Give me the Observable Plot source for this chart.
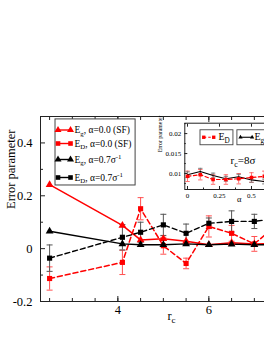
<!DOCTYPE html>
<html><head><meta charset="utf-8">
<script src="https://cdn.jsdelivr.net/npm/d3@7"></script>
<script src="https://cdn.jsdelivr.net/npm/@observablehq/plot@0.6"></script>
<style>
html,body{margin:0;padding:0;background:#fff;overflow:hidden;width:264px;height:341px;}
#wrap{position:relative;width:264px;height:341px;overflow:hidden;}
#wrap svg{max-width:none !important;display:block;}
#main{position:absolute;left:0;top:0;}
#inset{position:absolute;left:150px;top:110px;}
</style></head><body><div id="wrap"><div id="main"></div><div id="inset"></div></div>
<script>
// ---- main chart data (r_c in units of sigma) ----
const rc      = [2.5, 4.1, 4.5, 5.0, 5.5, 6.0, 6.5, 7.0, 7.5];
const egSF    = [0.242, 0.088, 0.033, 0.037, 0.028, 0.015, 0.022, 0.018, 0.02];
const edSF    = [-0.113, -0.052, 0.151, 0.011, -0.056, 0.084, 0.058, 0.018, 0.09];
const edSFerr = [0.044, 0.046, 0.042, 0.032, 0.02, 0.04, 0.03, 0.028, 0.03];
const eg07    = [0.066, 0.018, 0.015, 0.015, 0.018, 0.015, 0.017, 0.015, 0.014];
const ed07    = [-0.036, 0.043, 0.062, 0.09, 0.058, 0.096, 0.103, 0.103, 0.115];
const ed07err = [0.05, 0.048, 0.038, 0.04, 0.035, 0.02, 0.04, 0.027, 0.03];
const xTicks = [4, 6];
const yTicks = [-0.2, 0, 0.2, 0.4];
const legendLabels = ["E_{g}, α=0.0 (SF)", "E_{D}, α=0.0 (SF)", "E_{g}, α=0.7σ^{-1}", "E_{D}, α=0.7σ^{-1}"];

// ---- inset data (r_c = 8 sigma) ----
const alpha      = [0, 0.1, 0.2, 0.3, 0.4, 0.5, 0.6, 0.7];
const insetED    = [0.0093, 0.0097, 0.0085, 0.0085, 0.0087, 0.009, 0.0093, 0.0094];
const insetEDerr = [0.0013, 0.0013, 0.0012, 0.0012, 0.0013, 0.0012, 0.0013, 0.0013];
const insetEg    = [0.0097, 0.0105, 0.0095, 0.0087, 0.0092, 0.0084, 0.008, 0.0078];
const insetEgErr = [0.0007, 0.0008, 0.0006, 0.0006, 0.0006, 0.0006, 0.0006, 0.0006];
const insetXTicks = [0, 0.25, 0.5];
const insetYTicks = [0.01, 0.015, 0.02];

const RED = "#ff0000";
const cap = {draw(c){ c.moveTo(-3,0); c.lineTo(3,0); }};
const capS = {draw(c){ c.moveTo(-2.2,0); c.lineTo(2.2,0); }};

function rich(svg) {
  d3.select(svg).selectAll("text").each(function() {
    const s = this.textContent;
    if (!/[_^]\{/.test(s)) return;
    const el = d3.select(this);
    el.selectAll("*").remove(); el.text("");
    const re = /([_^])\{([^}]*)\}|([^_^]+)/g;
    let m, shift = 0;
    while ((m = re.exec(s))) {
      if (m[3] !== undefined) {
        el.append("tspan").attr("dy", (-shift) + "em").text(m[3]);
        shift = 0;
      } else {
        const target = m[1] === "_" ? 0.28 : -0.42;
        const fs = 0.72;
        el.append("tspan").attr("font-size", (fs*100) + "%").attr("dy", ((target - shift)/fs) + "em").text(m[2]);
        shift = target;
      }
    }
  });
}

const rows = rc.map((x, i) => ({x, egSF: egSF[i], edSF: edSF[i], edSFerr: edSFerr[i], eg07: eg07[i], ed07: ed07[i], ed07err: ed07err[i]}));

// legend layout (in data units of the main frame)
const lx1 = 2.685, lx2 = 2.96, ltx = 3.046;
const lys = [0.4489, 0.3978, 0.3373, 0.2692];
const legend = legendLabels.map((label, i) => ({
  label, y: lys[i],
  color: i < 2 ? RED : "black",
  dashed: i % 2 === 1,
  sym: i % 2 === 0 ? "triangle" : "square"
}));
const legendPts = legend.flatMap(d => [{...d, x: lx1}, {...d, x: lx2}]);

const mainSvg = Plot.plot({
  width: 320, height: 341,
  marginLeft: 40, marginRight: 7, marginTop: 116, marginBottom: 40,
  style: {fontFamily: "'Liberation Serif', 'DejaVu Serif', serif", fontSize: "12px", maxWidth: "none", background: "transparent", color: "black"},
  x: {domain: [2.3, 8.3]},
  y: {domain: [-0.2, 0.5]},
  marks: [
    Plot.frame({stroke: "#222"}),
    Plot.axisX({ticks: d3.range(2.5, 8.01, 0.5), tickSize: -3, tickFormat: () => "", label: null, stroke: "#222"}),
    Plot.axisX({ticks: d3.range(2.5, 8.01, 0.5), anchor: "top", tickSize: -3, tickFormat: () => "", label: null, stroke: "#222"}),
    Plot.axisX({ticks: xTicks, tickSize: -5, tickPadding: 9, tickFormat: d => String(d), label: null, fontSize: 12.5, stroke: "#222"}),
    Plot.axisX({ticks: xTicks, anchor: "top", tickSize: -5, tickFormat: () => "", label: null, stroke: "#222"}),
    Plot.axisY({ticks: d3.range(-0.1, 0.51, 0.2), tickSize: -3, tickFormat: () => "", label: null, stroke: "#222"}),
    Plot.axisY({ticks: yTicks, tickSize: -5, tickPadding: 13, tickFormat: d => String(d), label: null, fontSize: 12.5, stroke: "#222"}),
    // error bars
    Plot.ruleX(rows, {x: "x", y1: d => d.edSF - d.edSFerr, y2: d => d.edSF + d.edSFerr, stroke: "#ff5050", strokeWidth: 1}),
    Plot.dot(rows, {x: "x", y: d => d.edSF - d.edSFerr, symbol: cap, stroke: "#ff5050", strokeWidth: 1}),
    Plot.dot(rows, {x: "x", y: d => d.edSF + d.edSFerr, symbol: cap, stroke: "#ff5050", strokeWidth: 1}),
    Plot.ruleX(rows, {x: "x", y1: d => d.ed07 - d.ed07err, y2: d => d.ed07 + d.ed07err, stroke: "#555", strokeWidth: 1}),
    Plot.dot(rows, {x: "x", y: d => d.ed07 - d.ed07err, symbol: cap, stroke: "#555", strokeWidth: 1}),
    Plot.dot(rows, {x: "x", y: d => d.ed07 + d.ed07err, symbol: cap, stroke: "#555", strokeWidth: 1}),
    // lines
    Plot.line(rows, {x: "x", y: "egSF", stroke: RED, strokeWidth: 1.5}),
    Plot.line(rows, {x: "x", y: "edSF", stroke: RED, strokeWidth: 1.5, strokeDasharray: "5,3"}),
    Plot.line(rows, {x: "x", y: "eg07", stroke: "black", strokeWidth: 1.4}),
    Plot.line(rows, {x: "x", y: "ed07", stroke: "black", strokeWidth: 1.4, strokeDasharray: "5,3"}),
    Plot.dot(rows, {x: "x", y: "egSF", symbol: "triangle", fill: RED, r: 2.9}),
    Plot.dot(rows, {x: "x", y: "edSF", symbol: "square", fill: RED, r: 2.9}),
    Plot.dot(rows, {x: "x", y: "eg07", symbol: "triangle", fill: "black", r: 2.9}),
    Plot.dot(rows, {x: "x", y: "ed07", symbol: "square", fill: "black", r: 2.9}),
    // legend
    Plot.rect([0], {x1: 2.63, x2: 4.39, y1: 0.239, y2: 0.489, fill: "white", stroke: "#444", strokeWidth: 1}),
    Plot.link(legend, {x1: lx1, x2: lx2, y1: "y", y2: "y", stroke: "color", strokeWidth: 1.4, strokeDasharray: d => d.dashed ? "3,2.5" : null}),
    Plot.dot(legendPts, {x: "x", y: "y", symbol: "sym", fill: "color", r: 2.6}),
    Plot.text(legend, {x: ltx, y: "y", text: "label", textAnchor: "start", fontSize: 9.5, fill: "black"}),
    // axis titles
    Plot.text(["Error parameter"], {frameAnchor: "left", dx: -30, rotate: -90, fontSize: 12.5, fill: "black"}),
    Plot.text(["r_{c}"], {frameAnchor: "bottom", dx: -5.5, dy: 18, fontSize: 12.5, fill: "black"})
  ]
});
rich(mainSvg);
document.getElementById("main").appendChild(mainSvg);

// ---- inset ----
const irows = alpha.map((a, i) => ({a, ed: insetED[i], edErr: insetEDerr[i], eg: insetEg[i], egErr: insetEgErr[i]}));
const insetSvg = Plot.plot({
  width: 131, height: 101,
  marginLeft: 34.3, marginRight: 0, marginTop: 12.7, marginBottom: 22,
  style: {fontFamily: "'Liberation Serif', 'DejaVu Serif', serif", fontSize: "7px", maxWidth: "none", background: "transparent", color: "black", overflow: "visible"},
  x: {domain: [-0.021, 0.7345]},
  y: {domain: [0.006, 0.0226]},
  marks: [
    Plot.frame({fill: "white", stroke: "#222"}),
    Plot.axisX({ticks: d3.range(0.125, 0.71, 0.25), tickSize: -1.5, tickFormat: () => "", label: null, stroke: "#222"}),
    Plot.axisX({ticks: insetXTicks, tickSize: -3, tickPadding: 7, tickFormat: d => String(d), label: null, fontSize: 7, stroke: "#222"}),
    Plot.axisX({ticks: insetXTicks, anchor: "top", tickSize: -3, tickFormat: () => "", label: null, stroke: "#222"}),
    Plot.axisY({ticks: [0.0075, 0.0125, 0.0175, 0.0225], tickSize: -1.5, tickFormat: () => "", label: null, stroke: "#222"}),
    Plot.axisY({ticks: insetYTicks, tickSize: -3, tickPadding: 6.5, tickFormat: d => String(d), label: null, fontSize: 7, stroke: "#222"}),
    // error bars
    Plot.ruleX(irows, {x: "a", y1: d => d.ed - d.edErr, y2: d => d.ed + d.edErr, stroke: "#ff6060", strokeWidth: 0.9}),
    Plot.dot(irows, {x: "a", y: d => d.ed - d.edErr, symbol: capS, stroke: "#ff6060", strokeWidth: 0.9}),
    Plot.dot(irows, {x: "a", y: d => d.ed + d.edErr, symbol: capS, stroke: "#ff6060", strokeWidth: 0.9}),
    Plot.ruleX(irows, {x: "a", y1: d => d.eg - d.egErr, y2: d => d.eg + d.egErr, stroke: "#777", strokeWidth: 0.9}),
    Plot.dot(irows, {x: "a", y: d => d.eg - d.egErr, symbol: capS, stroke: "#777", strokeWidth: 0.9}),
    Plot.dot(irows, {x: "a", y: d => d.eg + d.egErr, symbol: capS, stroke: "#777", strokeWidth: 0.9}),
    Plot.line(irows, {x: "a", y: "eg", stroke: "black", strokeWidth: 1.1}),
    Plot.line(irows, {x: "a", y: "ed", stroke: RED, strokeWidth: 1.2, strokeDasharray: "3.5,2.5"}),
    Plot.dot(irows, {x: "a", y: "ed", symbol: "square", fill: RED, r: 2}),
    // legend boxes
    Plot.rect([0], {x1: 0.1016, x2: 0.359, y1: 0.01708, y2: 0.02083, fill: "white", stroke: "#444", strokeWidth: 0.9}),
    Plot.rect([0], {x1: 0.39, x2: 0.72, y1: 0.01708, y2: 0.02083, fill: "white", stroke: "#444", strokeWidth: 0.9}),
    Plot.link([0], {x1: 0.127, x2: 0.205, y1: 0.01908, y2: 0.01908, stroke: RED, strokeWidth: 1.2, strokeDasharray: "2.5,2"}),
    Plot.dot([0.127, 0.205], {x: d => d, y: 0.01908, symbol: "square", fill: RED, r: 1.9}),
    Plot.link([0], {x1: 0.414, x2: 0.505, y1: 0.01908, y2: 0.01908, stroke: "black", strokeWidth: 1.1}),
    Plot.dot([0.414, 0.505], {x: d => d, y: 0.01908, symbol: "triangle", fill: "black", r: 1.6}),
    Plot.text(["E_{D}"], {x: 0.242, y: 0.01908, textAnchor: "start", fontSize: 10, fill: "black"}),
    Plot.text(["E_{g}"], {x: 0.523, y: 0.01908, textAnchor: "start", fontSize: 10, fill: "black"}),
    Plot.text(["r_{c}=8σ"], {x: 0.336, y: 0.01333, textAnchor: "start", fontSize: 11, fill: "black"}),
    Plot.text(["Error parameter"], {frameAnchor: "left", dx: -25, dy: -4, rotate: -90, fontSize: 5.8, fill: "black"}),
    Plot.text(["α"], {frameAnchor: "bottom", dx: 6, dy: 12, fontSize: 8.5, fill: "black"})
  ]
});
rich(insetSvg);
document.getElementById("inset").appendChild(insetSvg);
</script>
</body></html>
